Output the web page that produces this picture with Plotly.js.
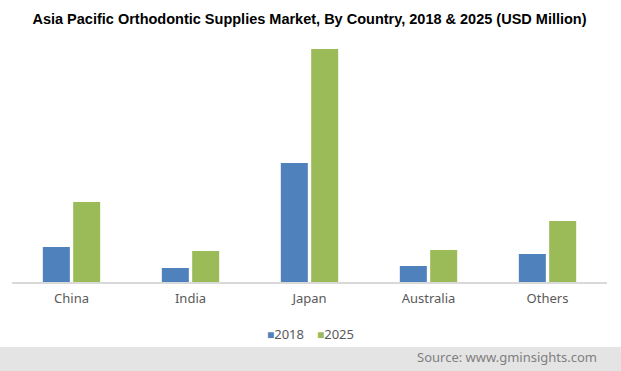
<!DOCTYPE html>
<html>
<head>
<meta charset="utf-8">
<script src="https://cdn.plot.ly/plotly-3.0.1.min.js"></script>
<style>html,body{margin:0;padding:0;background:#fff;}#chart{width:621px;height:371px;}</style>
</head>
<body>
<div id="chart"></div>
<script>
var categories = ["China", "India", "Japan", "Australia", "Others"];
var seriesNames = ["2018", "2025"];
var values2018 = [35, 14, 119, 16, 28];
var values2025 = [80, 31, 233, 32, 61];
var colors = ["#4F81BD", "#9BBB59"];

var traces = [
  {type: "bar", name: seriesNames[0], x: categories, y: values2018, marker: {color: colors[0]}, hoverinfo: "none"},
  {type: "bar", name: seriesNames[1], x: categories, y: values2025, marker: {color: colors[1]}, hoverinfo: "none"}
];

var W = 621, H = 371;
var ml = 12, mr = 14, mt = 40, mb = 89;
var pw = W - ml - mr, ph = H - mt - mb;
function px(x) { return (x - ml) / pw; }
function py(y) { return (H - mb - y) / ph; }

var legendFont = {family: "Noto Sans, sans-serif", size: 13, color: "#595959"};
var legendX = [265, 315];
var legendAnn = seriesNames.map(function (name, i) {
  return {
    text: '<span style="color:' + colors[i] + ';font-size:12px">■</span>' + name,
    xref: "paper", yref: "paper",
    x: px(legendX[i]), xanchor: "left",
    y: py(334), yanchor: "middle",
    showarrow: false, font: legendFont
  };
});

var layout = {
  width: W, height: H,
  margin: {l: ml, r: mr, t: mt, b: mb, pad: 0},
  paper_bgcolor: "#ffffff",
  plot_bgcolor: "#ffffff",
  title: {
    text: "<b>Asia Pacific Orthodontic Supplies Market, By Country, 2018 & 2025 (USD Million)</b>",
    font: {family: "Liberation Sans, Arial, sans-serif", size: 14.5, color: "#000000"},
    x: 0.5, xanchor: "center", xref: "paper",
    y: 1 - 19 / H, yanchor: "middle", yref: "container"
  },
  barmode: "group",
  bargap: 0.49,
  bargroupgap: 0.11,
  showlegend: false,
  xaxis: {
    type: "category",
    showgrid: false,
    zeroline: false,
    showline: true,
    linecolor: "#d9d9d9",
    linewidth: 1.5,
    ticks: "",
    tickfont: {family: "Noto Sans, sans-serif", size: 13, color: "#595959"},
    ticklabelstandoff: 4,
    fixedrange: true
  },
  yaxis: {
    range: [0, ph],
    visible: false,
    showgrid: false,
    zeroline: false,
    fixedrange: true
  },
  shapes: [
    {type: "rect", xref: "paper", yref: "paper",
     x0: px(0), x1: px(W), y0: py(347), y1: py(H),
     fillcolor: "#e4e4e4", line: {width: 0}, layer: "below"}
  ],
  annotations: legendAnn.concat([
    {text: "Source: www.gminsights.com", xref: "paper", yref: "paper",
     x: px(599), xanchor: "right", y: py(357), yanchor: "middle",
     showarrow: false,
     font: {family: "Noto Sans, sans-serif", size: 13, color: "#7f7f7f"}}
  ])
};

Plotly.newPlot("chart", traces, layout, {staticPlot: true, displayModeBar: false});
</script>
</body>
</html>
